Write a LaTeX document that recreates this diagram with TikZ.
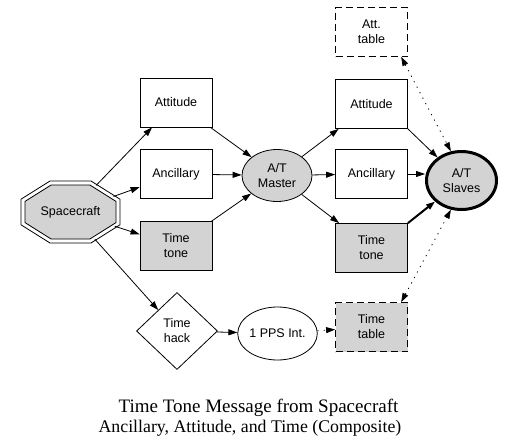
\documentclass[tikz,border=0pt]{standalone}
\usepackage{fontspec}
\setmainfont{Liberation Serif}
\newfontfamily\nodefont{Liberation Sans}
\usetikzlibrary{shapes.geometric,arrows.meta,calc}
\definecolor{ngray}{RGB}{211,211,211}
\begin{document}
\begin{tikzpicture}[x=1pt,y=-1pt,
  lbl/.style={font=\nodefont\fontsize{12.5}{15}\selectfont, align=center, inner sep=0pt},
  boxnode/.style={lbl, draw, line width=0.8pt, rectangle, minimum width=72pt, minimum height=49pt},
  graybox/.style={boxnode, fill=ngray},
  dashbox/.style={boxnode, dash pattern=on 7pt off 4pt},
  ellnode/.style={lbl, draw, line width=0.8pt, ellipse},
  edge/.style={-{Triangle[length=9pt,width=6pt]}, line width=0.8pt},
  dotedge/.style={{Triangle[length=9pt,width=6pt]}-{Triangle[length=9pt,width=6pt]}, line width=0.8pt, dash pattern=on 1.2pt off 5pt},
  capt/.style={inner sep=0pt, anchor=base},
]
\useasboundingbox (0,0) rectangle (516,447);
% Spacecraft double octagon
\draw[line width=0.8pt, fill=white] (120,199.2) -- (91,181) -- (50,181) -- (21,199.2) -- (21,224.8) -- (50,243) -- (91,243) -- (120,224.8) -- cycle;
\draw[line width=0.8pt, fill=ngray] (116,201.4) -- (89.9,185) -- (51.1,185) -- (25,201.4) -- (25,222.6) -- (51.1,239) -- (89.9,239) -- (116,222.6) -- cycle;
\node[lbl, ellipse, minimum width=99pt, minimum height=62pt] (sc) at (70.5,212) {Spacecraft};

\node[boxnode] (att1) at (176,102.5) {Attitude};
\node[boxnode] (anc1) at (176,174) {Ancillary};
\node[graybox] (tone1) at (176,246) {Time\\tone};
\node[lbl, draw, diamond, line width=0.8pt, minimum width=81pt, minimum height=77pt] (hack) at (177,331) {Time\\hack};

\node[ellnode, fill=ngray, minimum width=70pt, minimum height=52pt] (master) at (277,175.5) {A/T\\Master};
\node[ellnode, minimum width=79pt, minimum height=53pt] (pps) at (277.5,333.5) {1 PPS Int.};

\node[dashbox] (atttab) at (371.5,32) {Att.\\table};
\node[boxnode] (att2) at (371.5,104) {Attitude};
\node[boxnode] (anc2) at (371.5,174) {Ancillary};
\node[graybox] (tone2) at (371.5,248) {Time\\tone};
\node[dashbox, fill=ngray] (timetab) at (371.5,327) {Time\\table};

\node[ellnode, fill=ngray, line width=3pt, minimum width=70pt, minimum height=58pt] (slaves) at (461.5,180.5) {A/T\\Slaves};

% edges
\draw[edge] (sc) -- (att1);
\draw[edge] (sc) -- (anc1);
\draw[edge] (sc) -- (tone1);
\draw[edge] (sc) -- (hack);
\draw[edge] (att1) -- (master);
\draw[edge] (anc1) -- (master);
\draw[edge] (tone1) -- (master);
\draw[edge] (master) -- (att2);
\draw[edge] (master) -- (anc2);
\draw[edge] (master) -- (tone2);
\draw[edge] (att2.south east) -- (slaves);
\draw[edge] (anc2) -- (anc2 -| slaves.west);
\draw[edge, line width=2pt] (tone2.north east) -- (slaves);
\draw[dotedge] (atttab.-40) -- (slaves.110);
\draw[dotedge] (timetab.40) -- (slaves.-110);
\draw[edge] (hack) -- (pps);
\draw[edge, dash pattern=on 1.2pt off 5pt] (pps) -- (timetab);

% caption
\node[capt, font=\fontsize{19}{22}\selectfont] (cap1) at (258.5,412) {Time Tone Message from Spacecraft};
\node[capt, font=\fontsize{17.8}{22}\selectfont] (cap2) at (250,432) {Ancillary, Attitude, and Time (Composite)};
\end{tikzpicture}
\end{document}
